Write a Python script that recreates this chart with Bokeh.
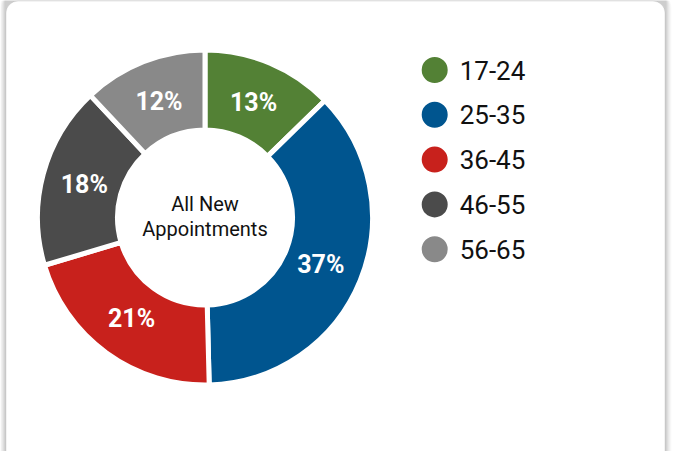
import math
from bokeh.plotting import figure
from bokeh.models import Range1d, BoxAnnotation, ColumnDataSource
from bokeh.core.properties import value
from bokeh.embed import file_html
from bokeh.resources import INLINE

# ---- data ----
categories = ["17-24", "25-35", "36-45", "46-55", "56-65"]
shares = [12.7, 36.9, 20.8, 17.6, 12.0]
colors = ["#538135", "#00558F", "#C8211C", "#4B4B4B", "#898989"]
center_title = ["All New", "Appointments"]

W, H = 672, 451
FONT = "Roboto"

p = figure(width=W, height=H, output_backend="svg", toolbar_location=None,
           x_range=Range1d(0, W), y_range=Range1d(0, H),
           min_border=0, min_border_left=0, min_border_right=0,
           min_border_top=0, min_border_bottom=0)
p.axis.visible = False
p.grid.visible = False
p.outline_line_color = None
p.background_fill_color = "white"
p.border_fill_color = "white"


def fy(y):
    # convert a top-down pixel offset to the upward data axis
    return H - y

# ---- card with soft shadow ----
for i, a in enumerate([0.02, 0.025, 0.03, 0.035, 0.045, 0.055]):
    d = 6 - i
    p.add_layout(BoxAnnotation(left=5 - d, right=665 + d, top=fy(0) + 10, bottom=-40,
                               border_radius=12 + d, fill_color="black", fill_alpha=a,
                               line_color=None, level="underlay"))
p.add_layout(BoxAnnotation(left=5.5, right=664.5, top=fy(0.5), bottom=-40,
                           border_radius=12, fill_color="white", fill_alpha=1,
                           line_color="#b0b0b0", line_width=1, level="underlay"))

# ---- donut ----
cx, cy = 204.5, fy(217)
r_out, r_in = 167.5, 87.5
total = sum(shares)
starts, ends, mids = [], [], []
acc = 0.0
for v in shares:
    t0 = acc / total * 2 * math.pi
    acc += v
    t1 = acc / total * 2 * math.pi
    starts.append(math.pi / 2 - t0)
    ends.append(math.pi / 2 - t1)
    mids.append((t0 + t1) / 2)

src = ColumnDataSource(dict(start=starts, end=ends, color=colors))
p.annular_wedge(x=cx, y=cy, inner_radius=r_in, outer_radius=r_out,
                start_angle="start", end_angle="end", direction="clock",
                fill_color="color", line_color="white", line_width=5, source=src)

r_lab = 125
lx = [cx + r_lab * math.sin(m) for m in mids]
ly = [cy + r_lab * math.cos(m) for m in mids]
labels = [f"{round(v / total * 100)}%" for v in shares]
p.text(x=lx, y=ly, text=labels, text_color="white", text_font=value(FONT),
       text_font_style="bold", text_font_size=value("25px"),
       text_align="center", text_baseline="middle")

# center title
p.text(x=[cx, cx], y=[fy(203.7), fy(228.7)], text=center_title, text_color="#111111",
       text_font=value(FONT), text_font_size=value("20px"),
       text_align="center", text_baseline="alphabetic")

# ---- legend ----
leg_x, leg_y0, leg_dy = 434.2, 69.5, 44.8
ys = [fy(leg_y0 + i * leg_dy) for i in range(len(categories))]
p.scatter(x=[leg_x] * len(categories), y=ys, size=26, marker="circle",
          fill_color=colors, line_color=None)
p.text(x=[leg_x + 25] * len(categories), y=ys, text=categories, text_color="#111111",
       text_font=value(FONT), text_font_size=value("26px"),
       text_align="left", text_baseline="middle")

open("out.html", "w").write(file_html(p, INLINE))
